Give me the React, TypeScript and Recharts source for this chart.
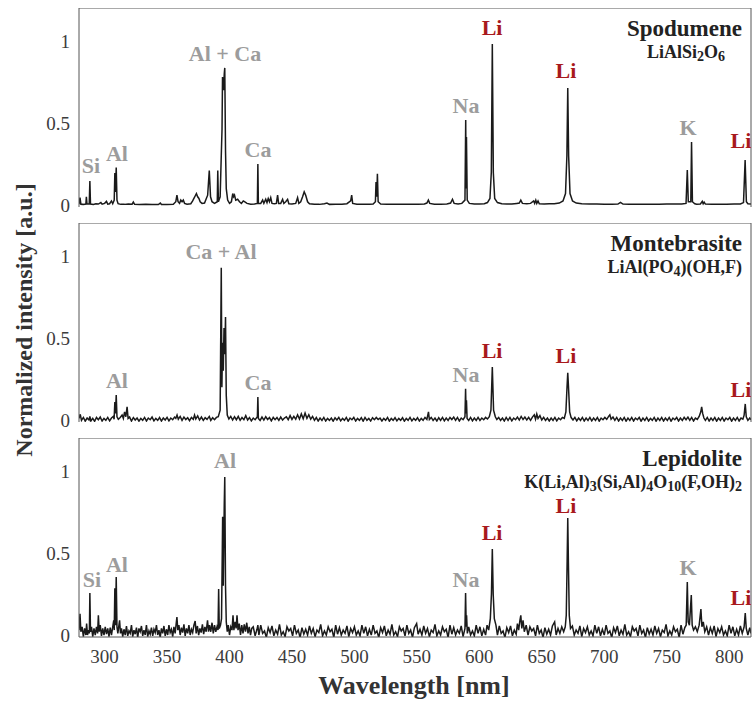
import { ComposedChart, Line, Scatter, XAxis, YAxis } from 'recharts';

const X_TICKS = [300, 350, 400, 450, 500, 550, 600, 650, 700, 750, 800];
const Y_TICKS = [0, 0.5, 1];
const X_DOMAIN: [number, number] = [279.5, 817.5];
const Y_DOMAIN: [number, number] = [-0.012, 1.2];

// [wavelength nm, normalized intensity]
const spodumene: [number, number][] = [
  [279.5, 0.005], [280.3, 0.045], [281, 0.005], [283, 0.004], [285, 0.006], [285.4, 0.05], [285.9, 0.006],
  [287.7, 0.006], [288.2, 0.146], [288.7, 0.006], [291, 0.004], [293, 0.008], [295, 0.006], [297, 0.015],
  [298, 0.005], [300, 0.01], [301.5, 0.022], [302.5, 0.006], [304, 0.008], [305.5, 0.025], [306.5, 0.008],
  [307.7, 0.03], [308.2, 0.195], [308.7, 0.08], [309.3, 0.228], [309.9, 0.03], [310.8, 0.008], [313, 0.004],
  [316, 0.004], [319, 0.006], [322, 0.005], [323, 0.018], [324, 0.004], [328, 0.003], [333, 0.004],
  [338, 0.003], [343, 0.003], [344.6, 0.012], [345.5, 0.003], [350, 0.003], [355, 0.005], [357, 0.02],
  [357.9, 0.06], [358.8, 0.02], [360, 0.01], [361, 0.03], [362, 0.02], [363, 0.03], [364, 0.01], [366, 0.005],
  [369, 0.008], [370.5, 0.025], [371.5, 0.04], [372.5, 0.055], [373.5, 0.07], [374.5, 0.05], [375.5, 0.04],
  [376.5, 0.02], [378, 0.01], [380, 0.012], [382.5, 0.06], [383.8, 0.21], [384.8, 0.05], [386, 0.02],
  [388, 0.01], [390.2, 0.02], [390.6, 0.21], [391.1, 0.02], [392.5, 0.05], [393.4, 0.3], [394, 0.46],
  [394.4, 0.78], [395.2, 0.7], [395.8, 0.8], [396.2, 0.835], [396.8, 0.33], [397.4, 0.1], [398.5, 0.03],
  [400, 0.01], [401.5, 0.02], [402.6, 0.07], [403.3, 0.05], [404, 0.06], [405, 0.03], [406.5, 0.035],
  [408, 0.02], [409.5, 0.01], [411, 0.025], [412, 0.02], [414, 0.01], [417, 0.005], [420, 0.006],
  [422.3, 0.01], [422.7, 0.25], [423.1, 0.01], [425, 0.01], [426.5, 0.03], [427.5, 0.01], [429, 0.035],
  [430, 0.015], [431, 0.04], [432, 0.02], [433, 0.045], [434, 0.01], [436, 0.008], [437.5, 0.01],
  [438.5, 0.06], [439.3, 0.01], [441, 0.01], [442.5, 0.035], [443.5, 0.01], [445, 0.02], [446.5, 0.035],
  [447.5, 0.008], [450, 0.006], [453, 0.01], [454.5, 0.045], [455.5, 0.01], [457, 0.02], [458.5, 0.05],
  [459.8, 0.08], [461, 0.06], [462.5, 0.02], [464, 0.008], [468, 0.005], [472, 0.004], [476, 0.008],
  [478, 0.012], [480, 0.004], [485, 0.005], [490, 0.005], [494, 0.008], [497, 0.025], [497.8, 0.06],
  [498.6, 0.01], [502, 0.005], [507, 0.004], [512, 0.005], [515, 0.006], [516.8, 0.02], [517.3, 0.14],
  [517.9, 0.05], [518.4, 0.19], [519, 0.02], [521, 0.006], [526, 0.005], [531, 0.005], [536, 0.004],
  [541, 0.005], [546, 0.004], [551, 0.005], [556, 0.006], [558, 0.012], [559.2, 0.03], [560.3, 0.01],
  [564, 0.005], [569, 0.005], [574, 0.006], [577, 0.012], [578.5, 0.035], [579.8, 0.01], [583, 0.006],
  [586, 0.01], [588.5, 0.03], [589.1, 0.518], [589.4, 0.1], [589.7, 0.415], [590.3, 0.03], [592, 0.01],
  [596, 0.006], [600, 0.006], [604, 0.008], [606.5, 0.015], [608.5, 0.04], [609.6, 0.2], [610.4, 0.98],
  [611.2, 0.2], [612.3, 0.04], [614.5, 0.015], [618, 0.008], [622, 0.006], [626, 0.006], [630, 0.01],
  [632, 0.012], [633.2, 0.03], [634.5, 0.01], [638, 0.008], [641, 0.01], [643.5, 0.025], [644.3, 0.01],
  [645.2, 0.03], [646, 0.01], [647, 0.025], [648, 0.008], [652, 0.006], [656, 0.008], [660, 0.008],
  [664, 0.012], [667, 0.025], [669, 0.07], [670.1, 0.3], [670.8, 0.713], [671.5, 0.3], [672.6, 0.07],
  [674.6, 0.025], [677.6, 0.012], [682, 0.008], [688, 0.006], [694, 0.006], [700, 0.005], [706, 0.005],
  [711, 0.006], [713, 0.016], [715, 0.006], [720, 0.005], [726, 0.004], [732, 0.005], [738, 0.005],
  [744, 0.005], [750, 0.006], [756, 0.006], [762, 0.006], [765.5, 0.01], [766.5, 0.213], [767.3, 0.02],
  [769.3, 0.02], [769.9, 0.384], [770.6, 0.02], [772.5, 0.008], [774, 0.005], [777, 0.006], [778.5, 0.022],
  [779.2, 0.008], [780, 0.018], [781, 0.006], [786, 0.005], [792, 0.005], [798, 0.005], [804, 0.006],
  [809, 0.006], [811.5, 0.015], [812.8, 0.274], [813.8, 0.02], [815, 0.008], [817.5, 0.006],
];

const montebrasite: [number, number][] = [
  [279.5, 0.01], [280.5, 0.035], [281.5, -0.002], [283, 0.016], [284.5, -0.007], [286, 0.012], [287.5, 0.0],
  [288.2, 0.022], [289, -0.006], [290.5, 0.01], [292, -0.008], [293.5, 0.016], [295, 0.002], [296.5, 0.018],
  [298, -0.006], [299.5, 0.01], [301, -0.002], [302.5, 0.016], [304, -0.005], [305.5, 0.012], [307, 0.022],
  [307.6, 0.005], [308.2, 0.11], [308.7, 0.04], [309.3, 0.152], [309.9, 0.02], [311, 0.005], [312.5, 0.015],
  [314, 0.03], [315, 0.01], [316, 0.05], [317, 0.02], [318, 0.08], [318.8, 0.01], [320, 0.018],
  [321.5, -0.006], [323, 0.015], [324.5, 0.0], [326, 0.012], [327.5, -0.007], [329, 0.01], [330.5, -0.002],
  [332, 0.016], [333.5, -0.006], [335, 0.012], [336.5, 0.002], [338, 0.018], [339.5, -0.005], [341, 0.01],
  [342.5, -0.002], [344, 0.015], [345.5, -0.006], [347, 0.012], [348.5, 0.0], [350, 0.016], [351.5, -0.005],
  [353, 0.012], [354.5, 0.002], [356, 0.018], [357, 0.01], [358, 0.03], [359, 0.005], [360.5, 0.022],
  [362, -0.002], [363.5, 0.018], [365, 0.003], [366.5, 0.014], [368, -0.004], [369.5, 0.016], [371, 0.004],
  [372, 0.03], [373, 0.006], [374.5, 0.025], [376, 0.0], [377.5, 0.018], [379, -0.002], [380.5, 0.014],
  [382, 0.004], [383.8, 0.022], [385, -0.002], [386.5, 0.014], [388, 0.002], [389.5, 0.016], [391, 0.02],
  [392.5, 0.06], [393.4, 0.927], [393.9, 0.2], [394.4, 0.47], [395, 0.3], [395.6, 0.56], [396.2, 0.4],
  [396.8, 0.628], [397.4, 0.15], [398.2, 0.03], [399.5, 0.006], [401, 0.022], [402.5, 0.0], [404, 0.02],
  [405.5, 0.002], [407, 0.022], [408.5, -0.002], [410, 0.015], [411.5, 0.002], [413, 0.027], [414.5, 0.0],
  [416, 0.015], [417.5, -0.005], [419, 0.012], [420.5, 0.002], [422.3, 0.02], [422.7, 0.14], [423.1, 0.01],
  [424.5, -0.002], [426, 0.018], [427.5, 0.0], [429, 0.02], [430.5, 0.003], [432, 0.015], [433.5, -0.005],
  [435, 0.016], [436.5, 0.002], [438, 0.015], [439.5, -0.002], [441, 0.018], [442.5, 0.0], [444, 0.012],
  [445.5, 0.02], [447, 0.002], [448.5, 0.027], [450, 0.004], [451.5, 0.022], [453, 0.005], [454.5, 0.032],
  [456, 0.006], [457.5, 0.037], [459, 0.008], [460.5, 0.042], [462, 0.01], [463.5, 0.032], [465, 0.005],
  [466.5, 0.022], [468, -0.002], [469.5, 0.015], [471, -0.006], [472.5, 0.012], [474, -0.002], [475.5, 0.016],
  [477, -0.006], [478.5, 0.01], [480, -0.002], [481.5, 0.012], [483, -0.007], [484.5, 0.014], [486, 0.0],
  [487.5, 0.016], [489, -0.005], [490.5, 0.01], [492, -0.002], [493.5, 0.016], [495, -0.007], [496.5, 0.012],
  [498, 0.002], [499.5, 0.016], [501, -0.006], [502.5, 0.01], [504, -0.002], [505.5, 0.014], [507, -0.007],
  [508.5, 0.016], [510, -0.002], [511.5, 0.01], [513, -0.006], [514.5, 0.014], [516, 0.002], [517.5, 0.016],
  [519, 0.003], [520.5, 0.012], [522, -0.006], [523.5, 0.01], [525, -0.002], [526.5, 0.016], [528, -0.007],
  [529.5, 0.01], [531, -0.002], [532.5, 0.014], [534, -0.005], [535.5, 0.01], [537, -0.002], [538.5, 0.014],
  [540, -0.007], [541.5, 0.01], [543, -0.002], [544.5, 0.016], [546, -0.005], [547.5, 0.01], [549, -0.002],
  [550.5, 0.014], [552, -0.006], [553.5, 0.01], [555, -0.002], [556.5, 0.016], [558, 0.004], [559.3, 0.05],
  [560, 0.003], [561.5, 0.016], [563, -0.002], [564.5, 0.012], [566, -0.006], [567.5, 0.014], [569, -0.002],
  [570.5, 0.016], [572, -0.005], [573.5, 0.012], [575, -0.002], [576.5, 0.016], [578, 0.003], [579.5, 0.018],
  [581, -0.002], [582.5, 0.016], [584, -0.006], [585.5, 0.012], [587, 0.002], [588.5, 0.02], [589, 0.19],
  [589.4, 0.04], [589.7, 0.12], [590.2, 0.01], [591.5, -0.002], [593, 0.016], [594.5, -0.005], [596, 0.012],
  [597.5, -0.002], [599, 0.016], [600.5, -0.002], [602, 0.012], [603.5, 0.002], [605, 0.016], [606.5, 0.006],
  [608, 0.02], [609.3, 0.06], [610.4, 0.323], [611.4, 0.06], [612.8, 0.02], [614, 0.003], [615.5, 0.016],
  [617, -0.002], [618.5, 0.012], [620, -0.006], [621.5, 0.016], [623, -0.002], [624.5, 0.016], [626, -0.005],
  [627.5, 0.012], [629, 0.002], [630.5, 0.018], [632, 0.0], [633.5, 0.022], [635, 0.003], [636.5, 0.018],
  [638, 0.0], [639.5, 0.016], [641, -0.002], [642.5, 0.018], [644, 0.032], [645, 0.005], [646, 0.037],
  [647, 0.01], [648.5, 0.027], [650, 0.0], [651.5, 0.016], [653, -0.002], [654.5, 0.012], [656, -0.006],
  [657.5, 0.012], [659, -0.002], [660.5, 0.016], [662, -0.005], [663.5, 0.012], [665, 0.002], [666.5, 0.016],
  [668, 0.01], [669.3, 0.05], [670.2, 0.2], [670.8, 0.287], [671.4, 0.2], [672.3, 0.05], [673.5, 0.015],
  [675, 0.0], [676.5, 0.016], [678, -0.005], [679.5, 0.012], [681, -0.002], [682.5, 0.016], [684, -0.006],
  [685.5, 0.012], [687, -0.002], [688.5, 0.016], [690, -0.005], [691.5, 0.012], [693, -0.002], [694.5, 0.016],
  [696, -0.007], [697.5, 0.012], [699, 0.002], [700.5, 0.016], [702, 0.004], [703.5, 0.022], [704.5, 0.032],
  [705.5, 0.005], [707, 0.018], [708.5, -0.002], [710, 0.016], [711.5, -0.006], [713, 0.012], [714.5, -0.002],
  [716, 0.016], [717.5, -0.007], [719, 0.012], [720.5, -0.002], [722, 0.016], [723.5, -0.006], [725, 0.012],
  [726.5, 0.002], [728, 0.016], [729.5, -0.007], [731, 0.012], [732.5, -0.002], [734, 0.016], [735.5, -0.006],
  [737, 0.01], [738.5, -0.002], [740, 0.016], [741.5, -0.007], [743, 0.012], [744.5, -0.002], [746, 0.016],
  [747.5, -0.006], [749, 0.012], [750.5, -0.002], [752, 0.016], [753.5, -0.007], [755, 0.012], [756.5, 0.002],
  [758, 0.016], [759.5, -0.006], [761, 0.012], [762.5, -0.002], [764, 0.016], [765.5, 0.002], [767, 0.018],
  [768.5, -0.002], [770, 0.016], [771.5, -0.006], [773, 0.012], [774.5, 0.004], [776, 0.022], [777.3, 0.05],
  [778, 0.08], [778.8, 0.04], [779.8, 0.012], [781, -0.002], [782.5, 0.016], [784, -0.006], [785.5, 0.012],
  [787, -0.002], [788.5, 0.016], [790, -0.007], [791.5, 0.012], [793, -0.002], [794.5, 0.016], [796, -0.006],
  [797.5, 0.012], [799, 0.002], [800.5, 0.016], [802, -0.007], [803.5, 0.012], [805, -0.002], [806.5, 0.016],
  [808, -0.006], [809.5, 0.012], [811, 0.005], [812, 0.03], [812.9, 0.098], [813.7, 0.02], [815, -0.002],
  [816.5, 0.012], [817.5, 0.002],
];

const lepidolite: [number, number][] = [
  [279.5, 0.03], [280.3, 0.13], [281, 0.02], [282, 0.05], [283, -0.01], [284, 0.04], [285, 0.0], [285.6, 0.07],
  [286.3, 0.0], [287.2, 0.03], [287.8, 0.01], [288.2, 0.256], [288.7, 0.02], [289.5, 0.05], [290.5, -0.01],
  [291.5, 0.04], [292.5, 0.0], [293.5, 0.05], [294.4, 0.01], [295, 0.12], [295.7, 0.02], [296.5, 0.06],
  [297.5, -0.005], [298.5, 0.04], [299.5, 0.0], [300.5, 0.05], [301.5, 0.005], [302.5, 0.04], [303.5, -0.01],
  [304.5, 0.045], [305.5, 0.0], [306.5, 0.05], [307.3, 0.09], [307.7, 0.03], [308.2, 0.285], [308.7, 0.06],
  [309.3, 0.354], [309.9, 0.05], [310.6, 0.01], [311.3, 0.05], [312, 0.09], [312.7, 0.01], [313.5, 0.04],
  [314.5, -0.01], [315.5, 0.035], [316.5, 0.0], [317.5, 0.055], [318.5, -0.005], [319.5, 0.025], [320.5, 0.01],
  [321.5, 0.06], [322.5, -0.01], [323.5, 0.03], [324.5, 0.005], [325.5, 0.045], [326.5, -0.015], [327.5, 0.04],
  [328.5, 0.02], [329.5, 0.055], [330.5, -0.005], [331.5, 0.03], [332.5, 0.0], [333.5, 0.06], [334.5, -0.01],
  [335.5, 0.025], [336.5, 0.005], [337.5, 0.045], [338.5, -0.005], [339.5, 0.035], [340.5, 0.015], [341.5, 0.06],
  [342.5, 0.0], [343.5, 0.03], [344.5, -0.015], [345.5, 0.04], [346.5, 0.01], [347.5, 0.055], [348.5, -0.005],
  [349.5, 0.035], [350.5, 0.0], [351.5, 0.06], [352.5, 0.015], [353.5, 0.035], [354.5, -0.01], [355.5, 0.05],
  [356.5, 0.01], [357.3, 0.07], [357.9, 0.11], [358.6, 0.03], [359.5, 0.06], [360.5, 0.0], [361.5, 0.045],
  [362.5, 0.015], [363.5, 0.065], [364.5, -0.005], [365.5, 0.04], [366.5, 0.01], [367.5, 0.06], [368.5, 0.0],
  [369.5, 0.035], [370.5, 0.015], [371.5, 0.06], [372.5, 0.085], [373.3, 0.01], [374.3, 0.055], [375.3, 0.0],
  [376.3, 0.04], [377.3, 0.015], [378.3, 0.065], [379.3, 0.005], [380.3, 0.05], [381.3, 0.02], [382.4, 0.09],
  [383.2, 0.02], [384, 0.06], [385, 0.02], [386, 0.075], [387, 0.01], [388, 0.06], [389, 0.02], [390, 0.05],
  [390.8, 0.03], [391.3, 0.28], [391.8, 0.04], [392.8, 0.06], [393.6, 0.1], [394.2, 0.5], [394.5, 0.72],
  [395, 0.3], [395.8, 0.8], [396.2, 0.963], [396.8, 0.3], [397.4, 0.08], [398.2, 0.02], [399, 0.06],
  [400, 0.0], [401, 0.05], [402, 0.03], [402.8, 0.12], [403.5, 0.03], [404.5, 0.08], [405.3, 0.04],
  [406, 0.12], [406.8, 0.03], [407.8, 0.07], [408.8, 0.0], [409.8, 0.06], [410.8, 0.01], [411.8, 0.065],
  [412.8, 0.02], [413.8, 0.075], [414.8, 0.01], [415.8, 0.05], [416.8, 0.0], [417.8, 0.04], [419, 0.05],
  [420.5, -0.005], [422, 0.035], [422.7, 0.06], [423.5, 0.0], [425, 0.06], [426.5, 0.01], [428, 0.025],
  [429.5, -0.015], [431, 0.045], [432.5, 0.015], [434, 0.055], [435.5, -0.005], [437, 0.03], [438.5, 0.005],
  [440, 0.065], [441.5, 0.0], [443, 0.02], [444.5, -0.01], [446, 0.05], [447.5, 0.025], [449, 0.04],
  [450.5, -0.005], [452, 0.06], [453.5, 0.01], [455, 0.03], [456.5, -0.015], [458, 0.045], [459.5, 0.005],
  [461, 0.035], [462.5, 0.0], [464, 0.055], [465.5, 0.01], [467, 0.04], [468.5, -0.01], [470, 0.03],
  [471.5, 0.015], [473, 0.065], [474.5, -0.005], [476, 0.025], [477.5, 0.0], [479, 0.05], [480.5, 0.02],
  [482, 0.035], [483.5, -0.015], [485, 0.06], [486.5, 0.005], [488, 0.045], [489.5, 0.0], [491, 0.03],
  [492.5, 0.01], [494, 0.055], [495.5, -0.01], [497, 0.04], [498.5, 0.015], [500, 0.05], [501.5, 0.0],
  [503, 0.025], [504.5, -0.005], [506, 0.06], [507.5, 0.01], [509, 0.05], [510.5, -0.005], [512, 0.035],
  [513.5, 0.0], [515, 0.06], [516.5, 0.01], [518, 0.025], [519.5, -0.015], [521, 0.045], [522.5, 0.015],
  [524, 0.055], [525.5, -0.005], [527, 0.03], [528.5, 0.005], [530, 0.065], [531.5, 0.0], [533, 0.02],
  [534.5, -0.01], [536, 0.05], [537.5, 0.025], [539, 0.04], [540.5, -0.005], [542, 0.06], [543.5, 0.01],
  [545, 0.03], [546.5, -0.015], [548, 0.045], [549.8, 0.07], [551, 0.005], [552.5, 0.035], [554, 0.0],
  [555.5, 0.055], [557, 0.01], [558.5, 0.04], [560, -0.01], [561.5, 0.03], [563, 0.015], [564.5, 0.065],
  [566, -0.005], [567.5, 0.025], [569, 0.0], [570.5, 0.05], [572, 0.02], [573.5, 0.035], [575, -0.015],
  [576.5, 0.06], [578, 0.005], [579.5, 0.045], [581, 0.0], [582.5, 0.03], [584, 0.01], [585.5, 0.055],
  [587, -0.01], [588.5, 0.04], [589, 0.256], [589.5, 0.05], [589.8, 0.12], [590.4, 0.01], [591.5, 0.05],
  [593, 0.0], [594.5, 0.025], [596, -0.005], [597.5, 0.06], [599, 0.01], [600.5, 0.05], [602, -0.005],
  [603.5, 0.035], [605, 0.0], [606.2, 0.06], [607.5, 0.03], [608.8, 0.1], [609.7, 0.25], [610.4, 0.524],
  [611.1, 0.25], [612, 0.1], [613.3, 0.06], [614.5, 0.0], [616, 0.055], [617.5, 0.01], [619, 0.025],
  [620.5, -0.015], [622, 0.045], [623.5, 0.015], [625, 0.055], [626.5, -0.005], [628, 0.03], [629.5, 0.005],
  [630.5, 0.07], [631.5, 0.03], [632.5, 0.09], [633.2, 0.12], [634, 0.04], [635, 0.09], [636, 0.02],
  [637.5, 0.06], [639, 0.0], [640.5, 0.05], [642, 0.025], [643.5, 0.04], [645, -0.005], [646.5, 0.06],
  [648, 0.01], [649.5, 0.03], [651, -0.015], [652.5, 0.045], [654, 0.005], [655.5, 0.035], [657, 0.0],
  [658.5, 0.055], [660.3, 0.08], [661.5, 0.0], [663, 0.04], [664.5, 0.01], [666, 0.05], [667.5, 0.02],
  [668.8, 0.05], [669.6, 0.12], [670.3, 0.45], [670.8, 0.713], [671.3, 0.45], [672, 0.12], [673, 0.04],
  [674.5, 0.055], [676, 0.0], [677.5, 0.03], [679, 0.01], [680.5, 0.055], [682, -0.01], [683.5, 0.04],
  [685, 0.015], [686.5, 0.05], [688, 0.0], [689.5, 0.025], [691, -0.005], [692.5, 0.06], [694, 0.01],
  [695.5, 0.05], [697, -0.005], [698.5, 0.035], [700, 0.0], [701.5, 0.06], [703, 0.01], [704.5, 0.025],
  [706, -0.015], [707.5, 0.045], [709, 0.015], [710.5, 0.055], [712, -0.005], [713.5, 0.03], [715, 0.005],
  [716.5, 0.065], [718, 0.0], [719.5, 0.02], [721, -0.01], [722.5, 0.05], [724, 0.025], [725.5, 0.04],
  [727, -0.005], [728.5, 0.06], [730, 0.01], [731.5, 0.03], [733, -0.015], [734.5, 0.045], [736, 0.005],
  [737.5, 0.035], [739, 0.0], [740.5, 0.055], [742, 0.01], [743.5, 0.04], [745, -0.01], [746.5, 0.03],
  [748, 0.015], [749.5, 0.065], [751, -0.005], [752.5, 0.025], [754, 0.0], [755.5, 0.05], [757, 0.02],
  [758.5, 0.035], [760, -0.015], [761.5, 0.06], [763, 0.005], [764.5, 0.045], [765.6, 0.06], [766.5, 0.323],
  [767.2, 0.08], [768.2, 0.06], [769.7, 0.244], [770.4, 0.06], [771.5, 0.03], [773, 0.05], [774.5, 0.02],
  [776, 0.06], [777.4, 0.158], [778.2, 0.05], [779.3, 0.08], [780.5, 0.02], [782, 0.05], [783.5, 0.0],
  [785, 0.045], [786.5, 0.01], [788, 0.055], [789.5, -0.01], [791, 0.04], [792.5, 0.015], [794, 0.05],
  [795.5, 0.0], [797, 0.025], [798.5, -0.005], [800, 0.06], [801.5, 0.01], [803, 0.05], [804.5, -0.005],
  [806, 0.035], [807.5, 0.0], [809, 0.055], [810.5, 0.01], [812, 0.05], [812.9, 0.134], [813.7, 0.04],
  [815, 0.0], [816.5, 0.045], [817.5, 0.01],
];

// element labels: [wavelength, intensity at text baseline, text]
const spodumeneLabels: [number, number, string][] = [
  [289.1, 0.195, 'Si'], [309.9, 0.268, 'Al'], [396.4, 0.878, 'Al + Ca'], [422.8, 0.293, 'Ca'],
  [589.3, 0.561, 'Na'], [610.2, 1.037, 'Li'], [669.4, 0.774, 'Li'], [767.1, 0.427, 'K'], [809.5, 0.348, 'Li'],
];
const montebrasiteLabels: [number, number, string][] = [
  [309.9, 0.195, 'Al'], [393.2, 0.982, 'Ca + Al'], [422.8, 0.183, 'Ca'], [589.3, 0.232, 'Na'],
  [610.2, 0.378, 'Li'], [669.4, 0.348, 'Li'], [809.5, 0.14, 'Li'],
];
const lepidoliteLabels: [number, number, string][] = [
  [289.9, 0.293, 'Si'], [309.9, 0.384, 'Al'], [396.4, 1.018, 'Al'], [589.3, 0.293, 'Na'],
  [610.2, 0.579, 'Li'], [669.4, 0.745, 'Li'], [767.1, 0.366, 'K'], [809.5, 0.183, 'Li'],
];

// formula pieces: [text, isSubscript]
const spodumeneFormula: [string, boolean][] = [['LiAlSi', false], ['2', true], ['O', false], ['6', true]];
const montebrasiteFormula: [string, boolean][] = [['LiAl(PO', false], ['4', true], [')(OH,F)', false]];
const lepidoliteFormula: [string, boolean][] = [
  ['K(Li,Al)', false], ['3', true], ['(Si,Al)', false], ['4', true], ['O', false], ['10', true],
  ['(F,OH)', false], ['2', true],
];

const SERIF = '"Liberation Serif", "Times New Roman", serif';
const FRAME = '#555555';
const GRAY = '#9c9c9c';
const LI_RED = '#a8191c';
const PLOT_H = 199;
const PAD = 14;

function LabelShape(props: any) {
  const { cx, cy, payload } = props;
  return (
    <text
      x={cx}
      y={cy}
      textAnchor="middle"
      fill={payload.text === 'Li' ? LI_RED : GRAY}
      fontSize={22}
      fontWeight="bold"
      fontFamily={SERIF}
    >
      {payload.text}
    </text>
  );
}

function Formula({ parts, x, y, anchor }: { parts: [string, boolean][]; x: number; y: number; anchor: string }) {
  let shift = 0;
  return (
    <text x={x} y={y} textAnchor={anchor as any} fontSize={18} fontWeight="bold" fontFamily={SERIF} fill="#222">
      {parts.map(([t, sub], i) => {
        const dy = sub ? 3 - shift : -shift;
        shift = sub ? 3 : 0;
        return (
          <tspan key={i} dy={dy} fontSize={sub ? 14 : 18}>
            {t}
          </tspan>
        );
      })}
    </text>
  );
}

interface PanelProps {
  top: number;
  spectrum: [number, number][];
  labels: [number, number, string][];
  name: string;
  formula: [string, boolean][];
  formulaX: number;
  formulaAnchor: string;
  showX?: boolean;
}

function Panel({ top, spectrum, labels, name, formula, formulaX, formulaAnchor, showX }: PanelProps) {
  const data = spectrum.map(([x, y]) => ({ x, y }));
  const marks = labels.map(([x, y, text]) => ({ x, y, text }));
  const axisX = {
    type: 'number' as const,
    dataKey: 'x',
    domain: X_DOMAIN,
    allowDataOverflow: true,
    ticks: X_TICKS,
    interval: 0 as const,
  };
  const axisY = {
    type: 'number' as const,
    domain: Y_DOMAIN,
    allowDataOverflow: true,
    ticks: Y_TICKS,
    interval: 0 as const,
  };
  return (
    <div style={{ position: 'absolute', left: 0, top }}>
      <ComposedChart
        width={753}
        height={PLOT_H + (showX ? 34 : PAD)}
        margin={{ top: 0, right: 2, bottom: showX ? 0 : PAD, left: 0 }}
      >
        <XAxis
          xAxisId="b"
          {...axisX}
          height={showX ? 34 : 0}
          axisLine={{ stroke: FRAME }}
          tickLine={false}
          tickSize={0}
          tickMargin={13}
          tick={showX ? { fill: '#3c3c3c', fontSize: 19, fontFamily: SERIF } : false}
        />
        <XAxis xAxisId="t" orientation="top" mirror {...axisX} tick={false} tickSize={7} tickLine={{ stroke: FRAME }} axisLine={{ stroke: FRAME }} />
        <XAxis xAxisId="bm" orientation="bottom" mirror {...axisX} tick={false} tickSize={7} tickLine={{ stroke: FRAME }} axisLine={false} />
        <YAxis
          yAxisId="l"
          {...axisY}
          width={79}
          axisLine={{ stroke: FRAME }}
          tickLine={false}
          tickSize={0}
          tickMargin={9}
          tick={{ fill: '#3c3c3c', fontSize: 19, fontFamily: SERIF }}
        />
        <YAxis yAxisId="lm" orientation="left" mirror {...axisY} tick={false} tickSize={7} tickLine={{ stroke: FRAME }} axisLine={false} />
        <YAxis yAxisId="r" orientation="right" mirror {...axisY} tick={false} tickSize={7} tickLine={{ stroke: FRAME }} axisLine={{ stroke: FRAME }} />
        <Line
          xAxisId="b"
          yAxisId="l"
          data={data}
          dataKey="y"
          type="linear"
          stroke="#1a1a1a"
          strokeWidth={1.5}
          dot={false}
          isAnimationActive={false}
        />
        <Scatter xAxisId="b" yAxisId="l" data={marks} dataKey="y" shape={LabelShape} isAnimationActive={false} />
      </ComposedChart>
      <svg width={753} height={70} style={{ position: 'absolute', left: 0, top: 0, pointerEvents: 'none' }}>
        <text x={742} y={28} textAnchor="end" fontSize={23} fontWeight="bold" fontFamily={SERIF} fill="#222">
          {name}
        </text>
        <Formula parts={formula} x={formulaX} y={50} anchor={formulaAnchor} />
      </svg>
    </div>
  );
}

export default function App() {
  return (
    <div style={{ position: 'absolute', left: 0, top: 0, width: 753, height: 702, background: '#fff' }}>
      <Panel top={8} spectrum={spodumene} labels={spodumeneLabels} name="Spodumene" formula={spodumeneFormula} formulaX={686} formulaAnchor="middle" />
      <Panel top={223} spectrum={montebrasite} labels={montebrasiteLabels} name="Montebrasite" formula={montebrasiteFormula} formulaX={742} formulaAnchor="end" />
      <Panel top={438} spectrum={lepidolite} labels={lepidoliteLabels} name="Lepidolite" formula={lepidoliteFormula} formulaX={742} formulaAnchor="end" showX />
      <svg width={753} height={702} style={{ position: 'absolute', left: 0, top: 0, pointerEvents: 'none' }}>
        <text x={414} y={694} textAnchor="middle" fontSize={26} fontWeight="bold" fontFamily={SERIF} fill="#333">
          Wavelength [nm]
        </text>
        <text
          x={32}
          y={320}
          transform="rotate(-90 32 320)"
          textAnchor="middle"
          fontSize={24}
          fontWeight="bold"
          fontFamily={SERIF}
          fill="#333"
        >
          Normalized intensity [a.u.]
        </text>
      </svg>
    </div>
  );
}
